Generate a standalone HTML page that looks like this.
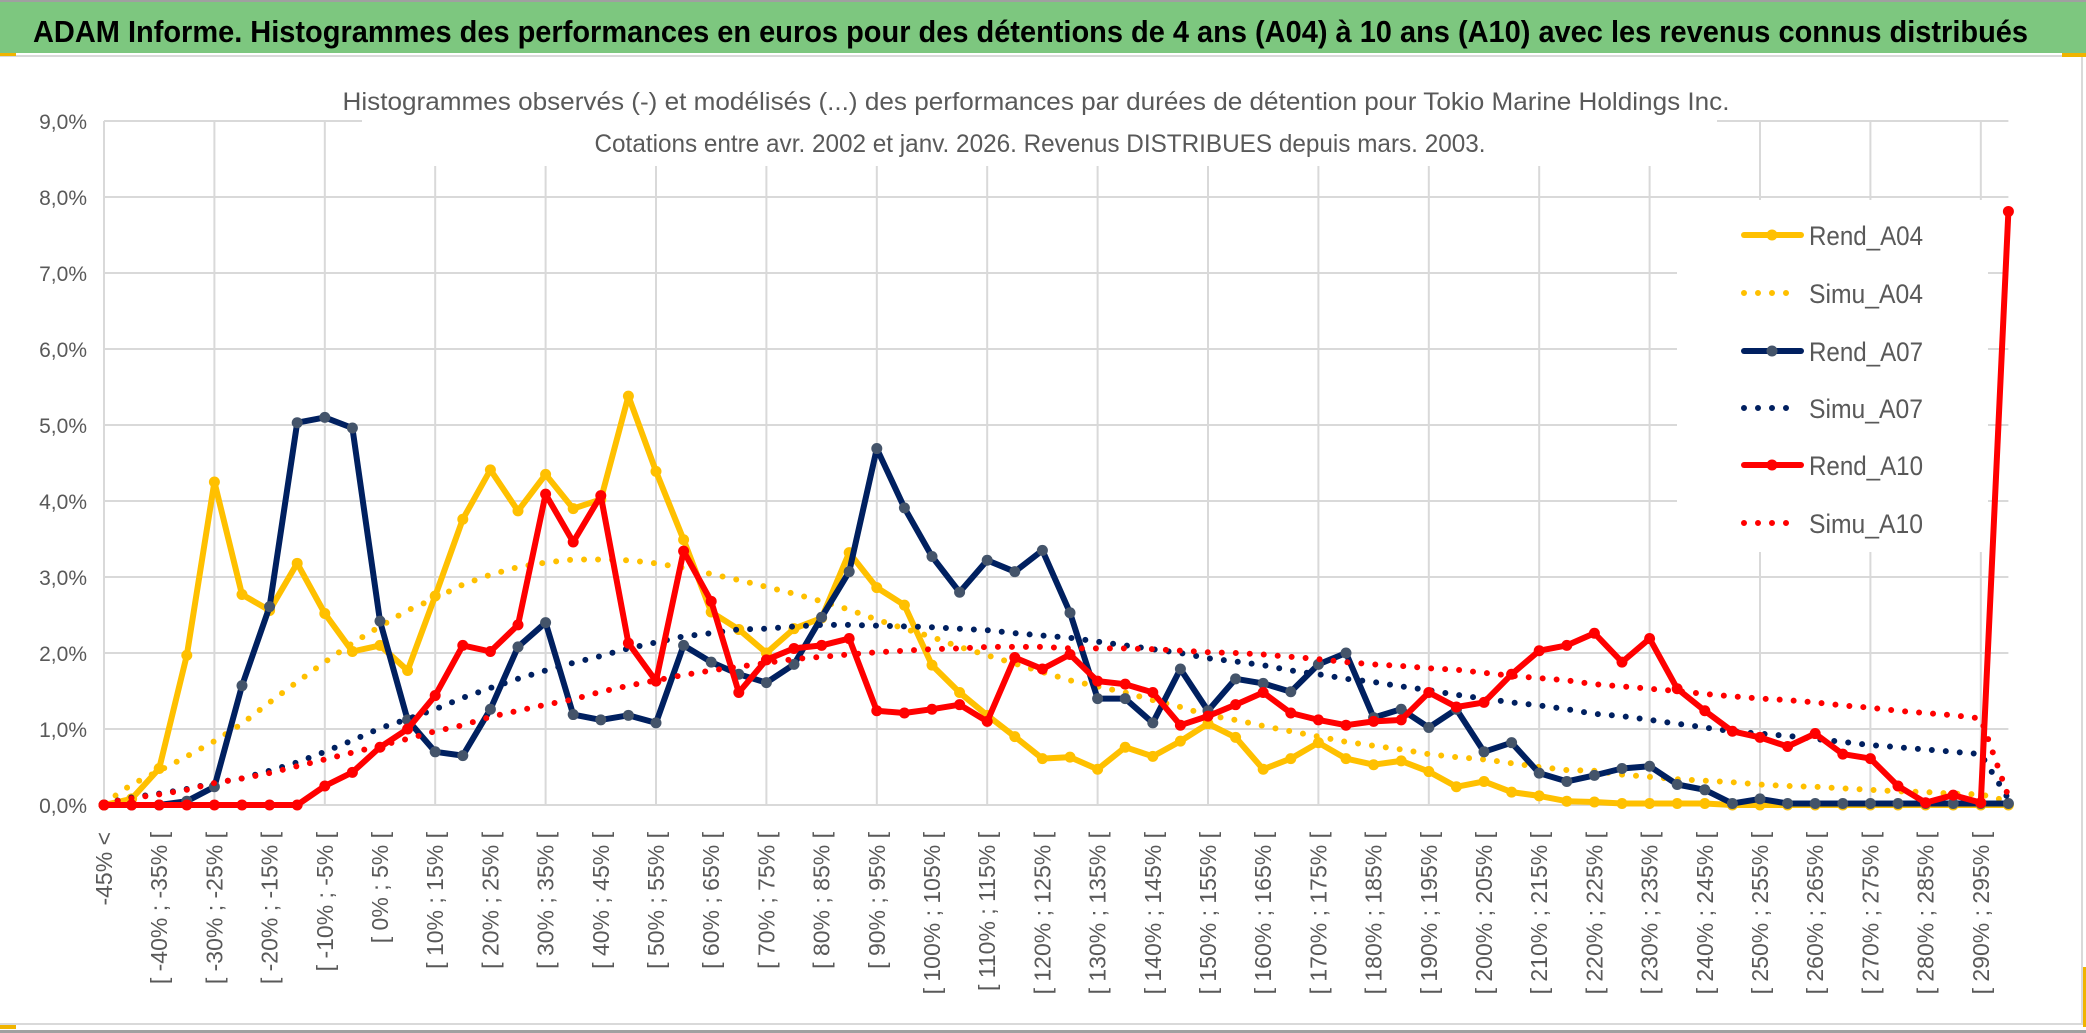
<!DOCTYPE html>
<html><head><meta charset="utf-8">
<style>
html,body{margin:0;padding:0;background:#fff;width:2086px;height:1033px;overflow:hidden}
svg{display:block}
text{font-family:"Liberation Sans",sans-serif}
</style></head>
<body>
<svg id="chart" width="2086" height="1033" viewBox="0 0 2086 1033" xmlns="http://www.w3.org/2000/svg">
  <rect x="0" y="0" width="2086" height="1033" fill="#fff"/>
  <rect x="0" y="0" width="2086" height="2" fill="#a0a0a0"/>
  <rect x="0" y="2" width="2086" height="51" fill="#7dc77f"/>
  <text x="33" y="42" font-size="31" font-weight="bold" fill="#000" textLength="1995" lengthAdjust="spacingAndGlyphs">ADAM Informe. Histogrammes des performances en euros pour des détentions de 4 ans (A04) à 10 ans (A10) avec les revenus connus distribués</text>
  <rect x="0" y="55" width="2082" height="2" fill="#d9d9d9"/>
  <rect x="0" y="53" width="16" height="3" fill="#f0b400"/>
  <rect x="2062" y="53" width="24" height="4" fill="#f0b400"/>
  <rect x="2081" y="57" width="2" height="968" fill="#d9d9d9"/>
  <rect x="2083" y="967" width="3" height="60" fill="#f0b400"/>
  <rect x="0" y="1023" width="2083" height="2" fill="#d9d9d9"/>
  <rect x="0" y="1030" width="2086" height="3" fill="#a0a0a0"/>
  <rect x="0" y="1025" width="16" height="4" fill="#f0b400"/>
  <g id="grid"></g>
  <g id="ylabels"></g>
  <g id="xlabels"></g>
  <rect x="362" y="60" width="1355" height="106" fill="#fff"/>
  <rect x="1677" y="200" width="311" height="352" fill="#fff"/>
  <text x="1036" y="110" font-size="25" fill="#595959" text-anchor="middle" textLength="1387" lengthAdjust="spacingAndGlyphs">Histogrammes observés (-) et modélisés (...) des performances par durées de détention pour Tokio Marine Holdings Inc.</text>
  <text x="1040" y="152" font-size="25" fill="#595959" text-anchor="middle" textLength="891" lengthAdjust="spacingAndGlyphs">Cotations entre avr. 2002 et janv. 2026. Revenus DISTRIBUES depuis mars. 2003.</text>
  <g id="series"></g>
  <g id="legend"></g>
</svg>
<script>
const tickLabels = ["-45% <","[ -40% ; -35% [","[ -30% ; -25% [","[ -20% ; -15% [","[ -10% ; -5% [","[ 0% ; 5% [","[ 10% ; 15% [","[ 20% ; 25% [","[ 30% ; 35% [","[ 40% ; 45% [","[ 50% ; 55% [","[ 60% ; 65% [","[ 70% ; 75% [","[ 80% ; 85% [","[ 90% ; 95% [","[ 100% ; 105% [","[ 110% ; 115% [","[ 120% ; 125% [","[ 130% ; 135% [","[ 140% ; 145% [","[ 150% ; 155% [","[ 160% ; 165% [","[ 170% ; 175% [","[ 180% ; 185% [","[ 190% ; 195% [","[ 200% ; 205% [","[ 210% ; 215% [","[ 220% ; 225% [","[ 230% ; 235% [","[ 240% ; 245% [","[ 250% ; 255% [","[ 260% ; 265% [","[ 270% ; 275% [","[ 280% ; 285% [","[ 290% ; 295% ["];
const yTicks = ["0,0%","1,0%","2,0%","3,0%","4,0%","5,0%","6,0%","7,0%","8,0%","9,0%"];
const rendA04 = [0,0.08,0.48,1.97,4.25,2.77,2.56,3.18,2.52,2.02,2.10,1.77,2.75,3.76,4.41,3.87,4.35,3.90,
 4.02,5.38,4.39,3.49,2.54,2.31,2.00,2.32,2.46,3.32,2.86,2.63,1.84,1.48,1.18,0.90,0.61,0.63,
 0.47,0.76,0.64,0.84,1.07,0.89,0.47,0.61,0.82,0.61,0.53,0.58,0.44,0.24,0.31,0.17,0.12,0.05,
 0.04,0.02,0.02,0.02,0.02,0,0,0,0,0,0,0,0,0,0,0];
const simuA04 = [0.02,0.27,0.45,0.64,0.84,1.07,1.35,1.62,1.88,2.13,2.35,2.56,2.72,2.90,3.03,3.13,3.19,3.23,
 3.23,3.22,3.18,3.12,3.04,2.96,2.87,2.78,2.68,2.57,2.44,2.32,2.21,2.08,1.97,1.86,1.75,1.64,
 1.56,1.48,1.38,1.29,1.18,1.12,1.04,0.97,0.90,0.83,0.78,0.73,0.67,0.63,0.60,0.55,0.50,0.46,
 0.45,0.40,0.37,0.34,0.32,0.30,0.27,0.25,0.24,0.22,0.20,0.18,0.17,0.15,0.14,0.05];
const rendA07 = [0,0,0,0.05,0.24,1.57,2.61,5.03,5.10,4.96,2.42,1.12,0.70,0.65,1.26,2.08,2.40,1.19,
 1.12,1.18,1.08,2.10,1.88,1.72,1.61,1.85,2.47,3.07,4.69,3.91,3.27,2.80,3.22,3.07,3.35,2.53,
 1.40,1.40,1.08,1.79,1.24,1.66,1.60,1.49,1.85,2.00,1.15,1.26,1.02,1.26,0.70,0.82,0.42,0.31,
 0.39,0.48,0.51,0.27,0.20,0.02,0.08,0.02,0.02,0.02,0.02,0.02,0.02,0.02,0.02,0.02];
const simuA07 = [0.02,0.10,0.15,0.21,0.29,0.35,0.45,0.56,0.70,0.85,1.01,1.13,1.26,1.41,1.54,1.66,1.77,1.87,
 1.96,2.06,2.14,2.22,2.26,2.31,2.32,2.35,2.37,2.37,2.36,2.35,2.34,2.32,2.30,2.26,2.23,2.20,
 2.15,2.10,2.05,2.00,1.93,1.89,1.84,1.77,1.72,1.66,1.62,1.56,1.51,1.45,1.40,1.35,1.31,1.26,
 1.20,1.17,1.12,1.07,1.02,0.97,0.94,0.91,0.87,0.83,0.79,0.76,0.73,0.70,0.67,0.08];
const rendA10 = [0,0,0,0,0,0,0,0,0.25,0.43,0.76,1.00,1.44,2.10,2.02,2.37,4.09,3.46,
 4.07,2.13,1.63,3.34,2.68,1.48,1.91,2.06,2.10,2.19,1.24,1.21,1.26,1.32,1.10,1.94,1.79,1.98,
 1.63,1.59,1.48,1.05,1.17,1.32,1.48,1.21,1.12,1.05,1.10,1.12,1.48,1.29,1.35,1.72,2.03,2.10,
 2.26,1.88,2.19,1.53,1.24,0.97,0.89,0.77,0.94,0.67,0.61,0.25,0.03,0.13,0.03,7.81];
const simuA10 = [0.02,0.09,0.14,0.20,0.29,0.35,0.42,0.51,0.60,0.69,0.78,0.87,0.97,1.05,1.16,1.24,1.32,1.39,
 1.49,1.57,1.64,1.71,1.77,1.82,1.87,1.92,1.95,1.98,2.01,2.03,2.05,2.06,2.08,2.08,2.08,2.06,
 2.06,2.06,2.05,2.03,2.01,2.00,1.98,1.95,1.92,1.88,1.85,1.83,1.80,1.78,1.74,1.70,1.67,1.64,
 1.59,1.56,1.53,1.50,1.46,1.43,1.40,1.38,1.35,1.31,1.28,1.24,1.21,1.18,1.14,0.11];

const NS = "http://www.w3.org/2000/svg";
const N = rendA04.length;
const X0 = 104, X1 = 2008.4, Y0 = 805, YTOP = 121, YMAX = 9;
function xs(i){ return X0 + (X1 - X0) * i / (N - 1); }
function ys(v){ return Y0 - (Y0 - YTOP) * v / YMAX; }
function mk(tag, attrs, parent){
  const e = document.createElementNS(NS, tag);
  for (const k in attrs) e.setAttribute(k, attrs[k]);
  parent.appendChild(e);
  return e;
}
const grid = document.getElementById('grid');
for (let t = 0; t < yTicks.length; t++) {
  const l = mk('line', {x1: X0, x2: X1, y1: ys(t), y2: ys(t), stroke: '#d9d9d9', 'stroke-width': 2}, grid);
  
  
}
for (let i = 0; i < N; i += 4) {
  const l = mk('line', {x1: xs(i), x2: xs(i), y1: ys(0), y2: ys(YMAX), stroke: '#d9d9d9', 'stroke-width': 2}, grid);
  
  
}
const yl = document.getElementById('ylabels');
yTicks.forEach((t, k) => {
  const e = mk('text', {x: 87, y: ys(k) + 8, 'font-size': 21, fill: '#595959', 'text-anchor': 'end'}, yl);
  e.textContent = t;
  
  
});
const xl = document.getElementById('xlabels');
tickLabels.forEach((t, k) => {
  const x = xs(k * 2) + 8, y = 832;
  const e = mk('text', {x: x, y: y, 'font-size': 23, fill: '#595959', 'text-anchor': 'end', transform: `rotate(-90 ${x} ${y})`}, xl);
  e.textContent = t;
  
  
});
const sg = document.getElementById('series');
function pts(arr){ return arr.map((v, i) => xs(i).toFixed(1) + ',' + ys(v).toFixed(1)).join(' '); }
function solid(arr, color, mcolor, name){
  const g = mk('g', {}, sg);
  
  
  const p = mk('polyline', {points: pts(arr), fill: 'none', stroke: color, 'stroke-width': 6, 'stroke-linejoin': 'round', 'stroke-linecap': 'round'}, g);
  
  
  arr.forEach((v, i) => {
    const c = mk('circle', {cx: xs(i), cy: ys(v), r: 5.5, fill: mcolor}, g);
    
    
  });
}
function dotted(arr, color, name){
  const p = mk('polyline', {points: pts(arr), fill: 'none', stroke: color, 'stroke-width': 6, 'stroke-dasharray': '0 14', 'stroke-linecap': 'round', 'stroke-linejoin': 'round'}, sg);
  
  
}
solid(rendA04, '#ffc000', '#ffc000', 'rend-a04');
dotted(simuA04, '#ffc000', 'simu-a04');
solid(rendA07, '#002060', '#44546a', 'rend-a07');
dotted(simuA07, '#002060', 'simu-a07');
solid(rendA10, '#ff0000', '#ff0000', 'rend-a10');
dotted(simuA10, '#ff0000', 'simu-a10');

const lg = document.getElementById('legend');
const legendNames = ["Rend_A04","Simu_A04","Rend_A07","Simu_A07","Rend_A10","Simu_A10"];
const legendColors = ["#ffc000","#ffc000","#002060","#002060","#ff0000","#ff0000"];
const legendMarker = ["#ffc000","","#44546a","","#ff0000",""];
const legendY = [235,293,351,408,465,523];
legendNames.forEach((nm, k) => {
  const g = mk('g', {}, lg);
  
  
  const y = legendY[k];
  if (legendMarker[k]) {
    const l = mk('line', {x1: 1744, x2: 1801, y1: y, y2: y, stroke: legendColors[k], 'stroke-width': 6, 'stroke-linecap': 'round'}, g);
    
    
    const c = mk('circle', {cx: 1772, cy: y, r: 5.5, fill: legendMarker[k]}, g);
    
    
  } else {
    const l = mk('line', {x1: 1744, x2: 1800, y1: y, y2: y, stroke: legendColors[k], 'stroke-width': 6, 'stroke-linecap': 'round', 'stroke-dasharray': '0 14'}, g);
    
    
  }
  const t = mk('text', {x: 1809, y: y + 10, 'font-size': 27, fill: '#595959', textLength: 114, lengthAdjust: 'spacingAndGlyphs'}, g);
  t.textContent = nm;
  
  
});
</script>
</body></html>
